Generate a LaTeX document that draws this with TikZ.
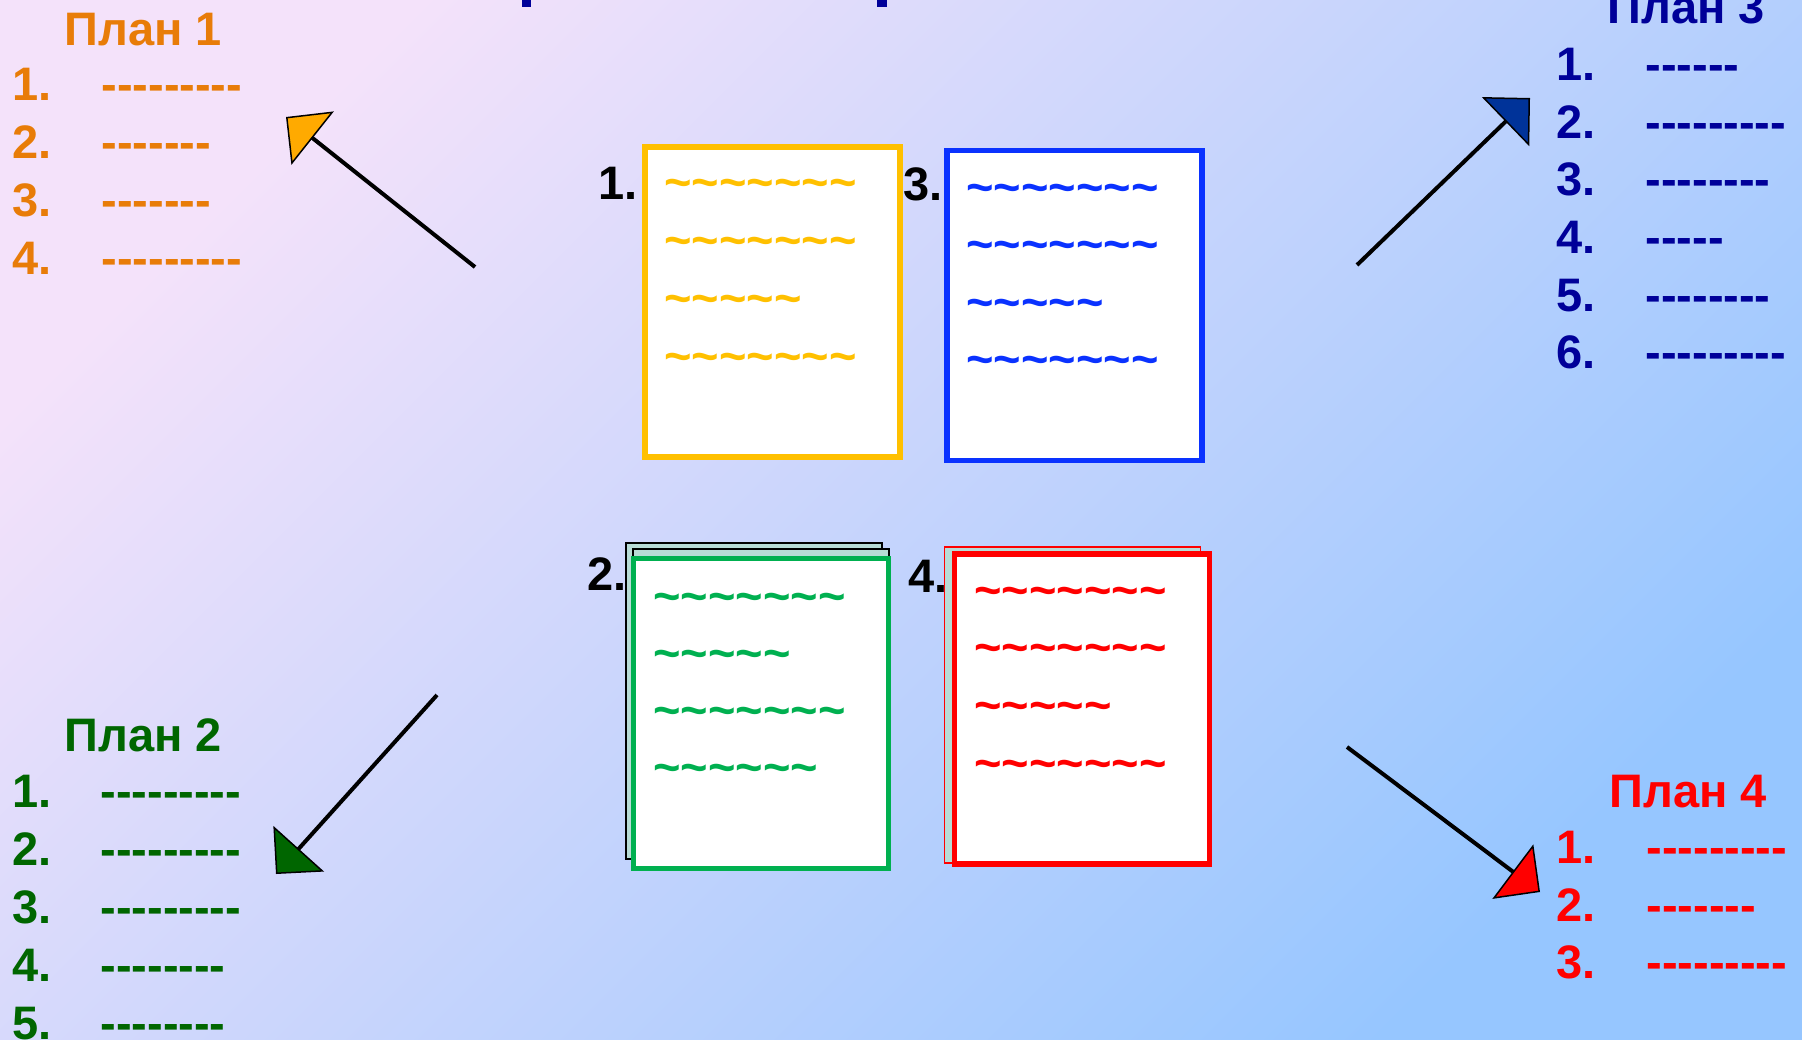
\documentclass[tikz,border=0pt]{standalone}
\usepackage{fontspec}
\setmainfont{Liberation Sans}[Ligatures=TeXOff]
\usepackage{tikz}
\usetikzlibrary{arrows.meta}
\usepackage{xcolor}

\definecolor{planA}{RGB}{232,124,8}
\definecolor{tipA}{RGB}{255,170,0}
\definecolor{docA}{RGB}{255,192,0}
\definecolor{planB}{RGB}{0,102,0}
\definecolor{docB}{RGB}{0,176,80}
\definecolor{planC}{RGB}{0,0,153}
\definecolor{tipC}{RGB}{0,51,153}
\definecolor{docC}{RGB}{10,50,255}
\definecolor{planD}{RGB}{255,0,0}
\definecolor{sheetcol}{RGB}{184,220,214}
\definecolor{bgA}{RGB}{244,226,250}
\definecolor{bgB}{RGB}{150,198,255}

\newcommand\waves[1]{\foreach\k in {1,...,#1}{\textasciitilde}}
\newcommand\dashes[1]{\foreach\k in {1,...,#1}{-}}

\begin{document}
\begin{tikzpicture} [
        x = 0.5pt, y = -0.5pt,
        every node/.style = { inner sep = 0, anchor = base west,
          font = \fontsize{23.5}{28}\selectfont\bfseries },
        doc/.style = { draw = #1, fill = white, line width = 2.75pt, anchor = center,
          minimum width = 127.5pt, minimum height = 155pt },
        sheet/.style = { draw = #1, fill = sheetcol, line width = 0.75pt, anchor = center,
          minimum width = 128pt, minimum height = 158pt },
        arrow/.style = { line width = 2pt,
          -{Triangle[length = 17pt, width = 34pt, line width = 0.75pt, fill = #1]} }
        ]
        
        \useasboundingbox (0,0) rectangle (1802,1039);
        \shade [top color = bgA, bottom color = bgB, shading angle = 45] (0,0) rectangle (1802,1039);
        \clip (0,0) rectangle (1802,1039);
        \fill [planC] (522,0) rectangle (531,7);
        \fill [planC] (877,0) rectangle (887,7);

        % the four sheets
        \node [doc = docA] (doc1) at (772.5,302) {};
        \node [doc = docC] (doc3) at (1074.5,305.5) {};
        \node [sheet = black] (back2a) at (754,701) {};
        \node [sheet = black] (back2b) at (761,707) {};
        \node [doc = docB] (doc2) at (761,713.5) {};
        \node [sheet = planD] (back4) at (1072.5,705) {};
        \node [doc = planD] (doc4) at (1082,709) {};

        \node (l1) at (598,199) {1.};
        \node (l3) at (903,200) {3.};
        \node (l2) at (587,590) {2.};
        \node (l4) at (908,592) {4.};

        \foreach \r/\w in {0/7,1/7,2/5,3/7} {
          \node [docA] (w1\r) at (664,{198+58*\r}) {\waves{\w}};
          \node [docC] (w3\r) at (966,{203+57.5*\r}) {\waves{\w}};
          \node [planD] (w4\r) at (974,{606+57.7*\r}) {\waves{\w}};
        }
        \foreach \r/\w in {0/7,1/5,2/7,3/6}
          \node [docB] (w2\r) at (653,{612+57*\r}) {\waves{\w}};

        % plans
        \node [planA] (plan1) at (64,45) {План 1};
        \foreach \n/\d in {1/9,2/7,3/7,4/9} {
          \node [planA] (p1n\n) at (12,{42+58*\n}) {\n.};
          \node [planA] (p1d\n) at (101,{42+58*\n}) {\dashes{\d}};
        }
        \node [planB] (plan2) at (64,751) {План 2};
        \foreach \n/\d in {1/9,2/9,3/9,4/8,5/8} {
          \node [planB] (p2n\n) at (12,{749+58*\n}) {\n.};
          \node [planB] (p2d\n) at (100,{749+58*\n}) {\dashes{\d}};
        }
        \node [planC] (plan3) at (1607,23) {План 3};
        \foreach \n/\d in {1/6,2/9,3/8,4/5,5/8,6/9} {
          \node [planC] (p3n\n) at (1556,{23+57.6*\n}) {\n.};
          \node [planC] (p3d\n) at (1645,{23+57.6*\n}) {\dashes{\d}};
        }
        \node [planD] (plan4) at (1609,807) {План 4};
        \foreach \n/\d in {1/9,2/7,3/9} {
          \node [planD] (p4n\n) at (1556,{806+57.6*\n}) {\n.};
          \node [planD] (p4d\n) at (1646,{806+57.6*\n}) {\dashes{\d}};
        }

        % arrows
        \coordinate (a1s) at (475,267);  \coordinate (a1e) at (286,117);
        \coordinate (a2s) at (437,695);  \coordinate (a2e) at (276,874);
        \coordinate (a3s) at (1357,265); \coordinate (a3e) at (1530,98);
        \coordinate (a4s) at (1347,747); \coordinate (a4e) at (1540,892);
        \draw [arrow = tipA] (a1s) -- (a1e);
        \draw [arrow = planB] (a2s) -- (a2e);
        \draw [arrow = tipC] (a3s) -- (a3e);
        \draw [arrow = planD] (a4s) -- (a4e);
    \end{tikzpicture}
\end{document}
